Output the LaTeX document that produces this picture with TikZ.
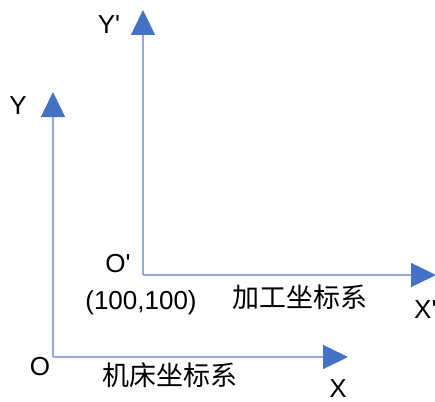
\documentclass[tikz,border=0pt]{standalone}
\usepackage{fontspec}
\setmainfont{Liberation Sans}[Ligatures=TeXOff]
\newfontfamily\cjk{Noto Sans CJK SC}
\usetikzlibrary{arrows.meta}
\definecolor{axisline}{HTML}{8FAADC}
\definecolor{arrowblue}{HTML}{4472C4}
\begin{document}
\begin{tikzpicture}[x=1pt,y=-1pt,
  axis/.style={draw=axisline,line width=1.5pt,
    -{Triangle[length=25pt,width=24pt,color=arrowblue,fill=arrowblue]}},
  lbl/.style={inner sep=0pt,font=\fontsize{26}{30}\selectfont},
  cn/.style={inner sep=0pt,font=\cjk\fontsize{27}{30}\selectfont}]
\useasboundingbox (0,0) rectangle (435,401);
% machine coordinate system
\coordinate (O) at (53,357);
\coordinate (Ytip) at (53,92);
\coordinate (Xtip) at (348,357);
\draw[axis] (O) -- (Ytip);
\draw[axis] (O) -- (Xtip);
% workpiece coordinate system
\coordinate (O2) at (143,275);
\coordinate (Y2tip) at (143,10);
\coordinate (X2tip) at (436,275);
\draw[axis] (O2) -- (Y2tip);
\draw[axis] (O2) -- (X2tip);
% labels
\node[lbl] (lY) at (18,106) {Y};
\node[lbl] (lY2) at (109,25) {Y'};
\node[lbl] (lO) at (40,367) {O};
\node[lbl] (lO2) at (118,264) {O'};
\node[lbl] (lcoord) at (141,303) {(100,100)};
\node[lbl,anchor=west] (lX2) at (414,310) {X'};
\node[lbl] (lX) at (338,389) {X};
\node[cn] (lwork) at (300,297) {加工坐标系};
\node[cn] (lmach) at (170,375) {机床坐标系};
\end{tikzpicture}
\end{document}
